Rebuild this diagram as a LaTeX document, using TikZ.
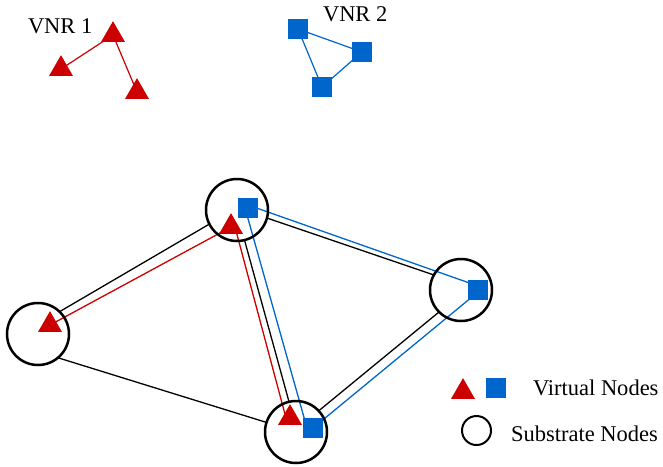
\documentclass[tikz,border=0pt]{standalone}
\usepackage{fontspec}
\setmainfont{Liberation Serif}
\usetikzlibrary{shapes.geometric}
\definecolor{vred}{RGB}{204,0,0}
\definecolor{vblue}{RGB}{0,102,204}
\pgfdeclarelayer{links}
\pgfsetlayers{links,main}
\begin{document}
\begin{tikzpicture}[x=1pt,y=-1pt,
  subnode/.style={circle,draw=black,line width=2.5pt,minimum size=62pt,inner sep=0pt,outer sep=0pt},
  vtri/.style={regular polygon,regular polygon sides=3,fill=vred,minimum size=27.7pt,inner sep=0pt,outer sep=0pt},
  vsq/.style={rectangle,fill=vblue,minimum size=20pt,inner sep=0pt,outer sep=0pt},
  slink/.style={draw=black,line width=1.3pt},
  rlink/.style={draw=vred,line width=1.3pt},
  blink/.style={draw=vblue,line width=1.3pt},
  lbl/.style={font=\fontsize{22.5}{27}\selectfont,inner sep=0pt,outer sep=0pt}
]
\useasboundingbox (0,0) rectangle (663,466);

% virtual network request 1
\node[vtri] (r1) at (113,35) {};
\node[vtri] (r2) at (61,69) {};
\node[vtri] (r3) at (137,92) {};
\node[lbl,anchor=base west] (v1) at (28,33) {VNR 1};

% virtual network request 2
\node[vsq] (q1) at (298,29) {};
\node[vsq] (q2) at (362,52) {};
\node[vsq] (q3) at (322,87) {};
\node[lbl,anchor=base west] (v2) at (323,21) {VNR 2};

% substrate network
\node[subnode] (A) at (38,334) {};
\node[subnode] (B) at (237,210) {};
\node[subnode] (C) at (296,432) {};
\node[subnode] (D) at (461,290) {};

% embedded virtual nodes
\node[vtri] (tA) at (50,325) {};
\node[vtri] (tB) at (231,227) {};
\node[vtri] (tC) at (290,418) {};
\node[vsq] (sB) at (248,208) {};
\node[vsq] (sC) at (313,428) {};
\node[vsq] (sD) at (478,290) {};

% legend
\node[vtri] (lt) at (463,392) {};
\node[vsq] (ls) at (496,388) {};
\node[circle,draw=black,line width=2pt,minimum size=29pt,inner sep=0pt,outer sep=0pt] (lc) at (476.5,430.5) {};
\node[lbl,anchor=base west] (lv) at (533,395) {Virtual Nodes};
\node[lbl,anchor=base west] (lsub) at (511,441) {Substrate Nodes};

\begin{pgfonlayer}{links}
  % request links
  \draw[rlink,line width=1.2pt] (r1.center) -- (r2.center);
  \draw[rlink,line width=1.2pt] (r1.center) -- (r3.center);
  \draw[blink,line width=1.2pt] (q1.center) -- (q2.center) -- (q3.center) -- (q1.center);
  % substrate links
  \draw[slink] (A.46) -- (B.207);
  \draw[slink] (A.-50) -- (C.162);
  \draw[slink] (B.-76) -- (C.103);
  \draw[slink] (B.-15) -- (D.151);
  \draw[slink] (C.43) -- (D.-135);
  % mapped virtual links
  \draw[rlink] (tA.center) -- (tB.center);
  \draw[rlink] ([shift={(4,0)}]tB.center) -- ([shift={(-4,0)}]tC.center);
  \draw[blink] ([shift={(-3,0)}]sB.center) -- ([shift={(-6,0)}]sC.center);
  \draw[blink] ([shift={(0,-3)}]sB.center) -- ([shift={(0,-4)}]sD.center);
  \draw[blink] (sC.center) -- ([shift={(0,2)}]sD.center);
\end{pgfonlayer}
\end{tikzpicture}
\end{document}
